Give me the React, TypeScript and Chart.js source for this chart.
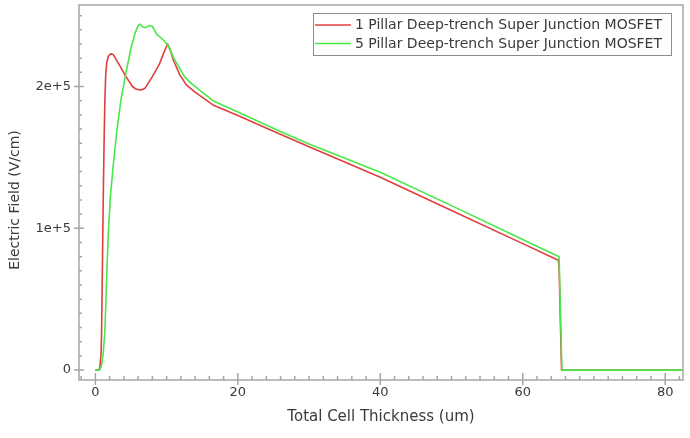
import React, { useEffect, useRef } from 'react';
import { Chart, registerables } from 'chart.js';

Chart.register(...registerables);

const seriesLabels = [
  '1 Pillar Deep-trench Super Junction MOSFET',
  '5 Pillar Deep-trench Super Junction MOSFET',
];

// 1 Pillar (red)
const onePillarX = [0, 0.5, 0.63, 0.8, 0.87, 0.98, 1.1, 1.22, 1.33, 1.45, 1.6, 1.85, 2.05, 2.28, 2.55, 2.8, 3.5, 4.3, 5.2, 5.7, 6.25, 6.6, 7.0, 8.0, 9.0, 9.7, 10.14, 10.5, 11.0, 11.87, 12.8, 14.0, 16.5, 20, 25, 30, 40, 50, 60, 65.0, 65.1, 65.45, 83];
const onePillarY = [0, 0, 2000, 12000, 26000, 70000, 120000, 160000, 190000, 208000, 217000, 221500, 222800, 223000, 222300, 220000, 214000, 207000, 200000, 198200, 197500, 197800, 199000, 207000, 216000, 225000, 230000, 226000, 218000, 208000, 201000, 196000, 187000, 179500, 168500, 157500, 136000, 112600, 89200, 77500, 73000, 0, 0];

// 5 Pillar (green)
const fivePillarX = [0, 0.6, 0.85, 1.1, 1.33, 1.55, 1.8, 2.1, 2.5, 3.0, 3.6, 4.3, 5.0, 5.6, 6.0, 6.25, 6.7, 7.1, 7.5, 8.0, 8.6, 9.5, 10.2, 11.0, 11.7, 12.5, 13.5, 15, 16.5, 20, 25.9, 30, 40, 50, 60, 65.1, 65.5, 83];
const fivePillarY = [0, 0, 3000, 12000, 27000, 60000, 95000, 122000, 144000, 168000, 191000, 210000, 227000, 238000, 243000, 244000, 242000, 241500, 243000, 242500, 237000, 233000, 229000, 220000, 214000, 207000, 202000, 196000, 190000, 182000, 168500, 159500, 139500, 116000, 92100, 80000, 0, 0];

const xTickValues = [0, 20, 40, 60, 80];
const xTickLabels = ['0', '20', '40', '60', '80'];
const yTickValues = [0, 100000, 200000];
const yTickLabels = ['0', '1e+5', '2e+5'];
const xMinorStep = 2;
const yMinorStep = 10000;
const xTitle = 'Total Cell Thickness (um)';
const yTitle = 'Electric Field (V/cm)';

const seriesColors = ['rgb(226,62,62)', 'rgb(72,232,72)'];
const FONT = "'DejaVu Sans', sans-serif";
const TEXT = '#3a3a3a';
const FRAME = '#a6a6a6';

const decorPlugin = {
  id: 'decor',
  afterDraw(chart: any) {
    const { ctx, chartArea: a, scales } = chart;
    const xs = scales.x;
    const ys = scales.y;
    ctx.save();
    // frame
    ctx.strokeStyle = FRAME;
    ctx.lineWidth = 1.5;
    ctx.strokeRect(a.left, a.top, a.right - a.left, a.bottom - a.top);
    // ticks
    ctx.beginPath();
    for (let v = Math.ceil(xs.min / xMinorStep) * xMinorStep; v <= xs.max; v += xMinorStep) {
      const px = xs.getPixelForValue(v);
      const major = xTickValues.includes(v);
      ctx.moveTo(px, a.bottom + (major ? 5 : 0));
      ctx.lineTo(px, a.bottom - (major ? 7 : 4));
    }
    for (let v = Math.ceil(ys.min / yMinorStep) * yMinorStep; v <= ys.max; v += yMinorStep) {
      const py = ys.getPixelForValue(v);
      const major = yTickValues.includes(v);
      ctx.moveTo(a.left - (major ? 5 : 0), py);
      ctx.lineTo(a.left + (major ? 5 : 3), py);
    }
    ctx.stroke();

    // y-axis title
    ctx.save();
    ctx.translate(15, (a.top + a.bottom) / 2 + 7.5);
    ctx.rotate(-Math.PI / 2);
    ctx.font = `14px ${FONT}`;
    ctx.fillStyle = TEXT;
    ctx.textAlign = 'center';
    ctx.textBaseline = 'middle';
    ctx.fillText(yTitle, 0, 0);
    ctx.restore();

    // legend
    ctx.font = `14px ${FONT}`;
    const labels = chart.data.datasets.map((d: any) => d.label);
    const textW = Math.max(...labels.map((l: string) => ctx.measureText(l).width));
    const sample = 36;
    const rowH = 18.5;
    const boxW = 2 + sample + 4 + textW + 9;
    const boxH = labels.length * rowH + 5;
    const right = a.right - 12;
    const left = right - boxW;
    const top = a.top + 8;
    ctx.strokeStyle = '#8c8c8c';
    ctx.lineWidth = 1;
    ctx.strokeRect(Math.round(left) + 0.5, Math.round(top) + 0.5, Math.round(boxW), Math.round(boxH));
    chart.data.datasets.forEach((d: any, i: number) => {
      const y = top + 12 + i * rowH;
      ctx.strokeStyle = d.borderColor;
      ctx.lineWidth = 1.6;
      ctx.beginPath();
      ctx.moveTo(left + 2, y);
      ctx.lineTo(left + 2 + sample, y);
      ctx.stroke();
      ctx.fillStyle = TEXT;
      ctx.textBaseline = 'middle';
      ctx.textAlign = 'left';
      ctx.fillText(d.label, left + 2 + sample + 4, y + 0.5);
    });
    ctx.restore();
  },
};

export default function App() {
  const canvasRef = useRef<HTMLCanvasElement | null>(null);

  useEffect(() => {
    const canvas = canvasRef.current;
    if (!canvas) return;
    const toPoints = (xs: number[], ys: number[]) => xs.map((x, i) => ({ x, y: ys[i] }));
    const lineStyle = {
      showLine: true,
      pointRadius: 0,
      borderWidth: 1.6,
      tension: 0,
      borderDash: [100000, 0],
      borderJoinStyle: 'round',
    };
    const chart = new Chart(canvas, {
      type: 'scatter',
      data: {
        datasets: [
          {
            label: seriesLabels[0],
            data: toPoints(onePillarX, onePillarY),
            borderColor: seriesColors[0],
            backgroundColor: seriesColors[0],
            ...lineStyle,
            order: 1,
          },
          {
            label: seriesLabels[1],
            data: toPoints(fivePillarX, fivePillarY),
            borderColor: seriesColors[1],
            backgroundColor: seriesColors[1],
            ...lineStyle,
            order: 0,
          },
        ],
      },
      options: {
        responsive: false,
        animation: false,
        layout: { padding: { top: 5, right: 7, left: 0, bottom: 0 } },
        plugins: { legend: { display: false }, tooltip: { enabled: false } },
        scales: {
          x: {
            type: 'linear',
            min: -2.3,
            max: 82.5,
            grid: { display: false, drawTicks: false },
            border: { display: false },
            afterBuildTicks: (s: any) => {
              s.ticks = xTickValues.map((v) => ({ value: v }));
            },
            afterFit: (s: any) => {
              s.height = 58;
              s.paddingLeft = 0;
              s.paddingRight = 0;
            },
            ticks: {
              padding: 5,
              color: TEXT,
              font: { family: FONT, size: 13 },
              maxRotation: 0,
              callback: (v: any) => xTickLabels[xTickValues.indexOf(Number(v))] ?? '',
            },
            title: {
              display: true,
              text: xTitle,
              color: TEXT,
              font: { family: FONT, size: 15 },
              padding: { top: 0, bottom: 12 },
            },
          },
          y: {
            type: 'linear',
            min: -7000,
            max: 257500,
            grid: { display: false, drawTicks: false },
            border: { display: false },
            afterBuildTicks: (s: any) => {
              s.ticks = yTickValues.map((v) => ({ value: v }));
            },
            afterFit: (s: any) => {
              s.width = 79;
              s.paddingTop = 0;
              s.paddingBottom = 0;
            },
            ticks: {
              padding: 8,
              color: TEXT,
              font: { family: FONT, size: 13 },
              callback: (v: any) => yTickLabels[yTickValues.indexOf(Number(v))] ?? '',
            },
            title: { display: false, text: yTitle },
          },
        },
      },
      plugins: [decorPlugin],
    } as any);
    return () => chart.destroy();
  }, []);

  return (
    <div style={{ position: 'fixed', left: 0, top: 0, width: 690, height: 438, background: '#fff' }}>
      <canvas ref={canvasRef} width={690} height={438} style={{ display: 'block' }} />
    </div>
  );
}
